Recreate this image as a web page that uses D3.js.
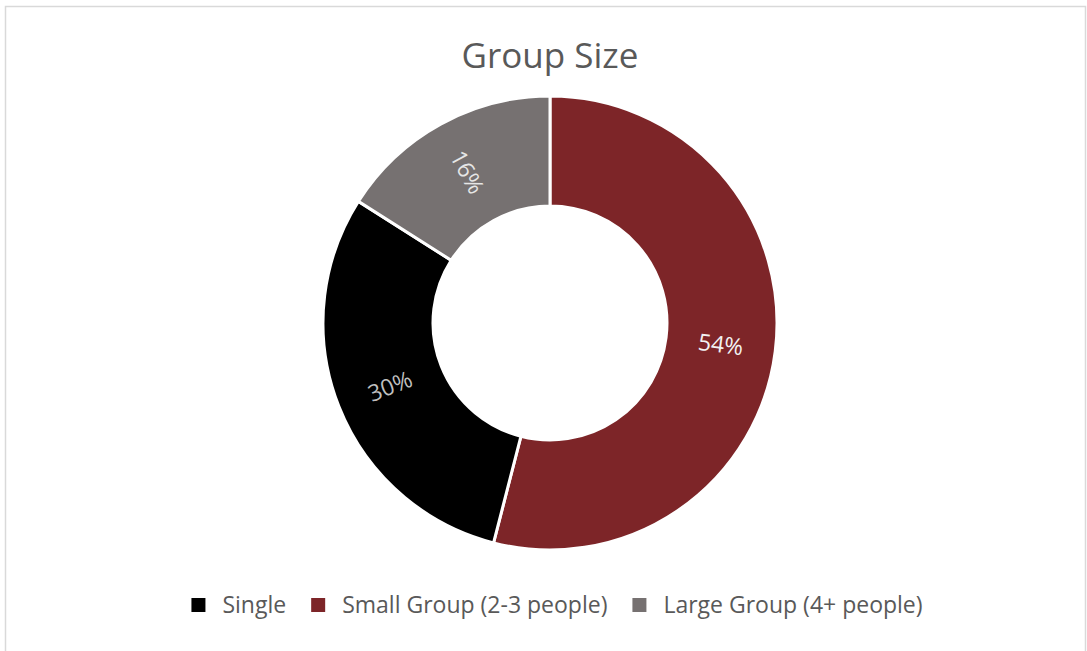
<!DOCTYPE html>
<html><head><meta charset="utf-8">
<script src="https://cdn.jsdelivr.net/npm/d3@7"></script>
<style>body{margin:0;background:#fff;}svg{display:block;}</style>
</head><body>
<svg id="c" width="1087" height="651"></svg>
<script>
const title = "Group Size";
const categories = ["Single", "Small Group (2-3 people)", "Large Group (4+ people)"];
const values = [30, 54, 16];
const sliceOrder = [1, 0, 2]; // drawing order clockwise from 12 o'clock
const colors = ["#000000", "#7d2528", "#767171"];
const labelColors = ["#bfbfbf", "#f2f2f2", "#e6e6e6"];

const svg = d3.select("#c");
svg.append("rect").attr("x",5.5).attr("y",6.5).attr("width",1080).attr("height",650)
  .attr("fill","#fff").attr("stroke","#d9d9d9").attr("stroke-width",1.5);

svg.append("text").attr("x",550).attr("y",68).attr("text-anchor","middle")
  .attr("font-family","Open Sans").attr("font-size",35).attr("fill","#595959").text(title);

const cx = 550, cy = 323, R = 227, r0 = 117;
const data = sliceOrder.map(i => ({i, v: values[i]}));
const pie = d3.pie().sort(null).value(d => d.v);
const arcs = pie(data);
const arc = d3.arc().innerRadius(r0).outerRadius(R);
const g = svg.append("g").attr("transform",`translate(${cx},${cy})`);
g.selectAll("path").data(arcs).join("path").attr("d",arc)
  .attr("fill",d=>colors[d.data.i]).attr("stroke","#fff").attr("stroke-width",3);

const total = d3.sum(values);
const labelArc = d3.arc().innerRadius((R+r0)/2).outerRadius((R+r0)/2);
g.selectAll("text.lbl").data(arcs).join("text").attr("class","lbl")
  .attr("transform", d => {
    const [x,y] = labelArc.centroid(d);
    let deg = ((d.startAngle+d.endAngle)/2)*180/Math.PI - 90;
    if (deg > 90) deg -= 180;
    if (deg < -90) deg += 180;
    return `translate(${x},${y}) rotate(${deg})`;
  })
  .attr("text-anchor","middle").attr("dy","0.35em")
  .attr("font-family","Open Sans").attr("font-size",23)
  .attr("fill",d=>labelColors[d.data.i])
  .text(d => Math.round(d.data.v/total*100) + "%");

// legend
const leg = svg.append("g");
const items = leg.selectAll("g").data(categories).join("g");
items.append("rect").attr("width",14).attr("height",14).attr("y",-15).attr("fill",(d,i)=>colors[i]);
items.append("text").attr("x",31).attr("y",0).attr("font-family","Open Sans")
  .attr("font-size",23).attr("fill","#595959").text(d=>d);
let xpos = 0; const gap = 25;
items.each(function(){
  const w = this.getBBox().width;
  d3.select(this).attr("transform",`translate(${xpos},0)`);
  xpos += w + gap;
});
const totalW = xpos - gap;
leg.attr("transform",`translate(${557 - totalW/2},613)`);
</script>
</body></html>
